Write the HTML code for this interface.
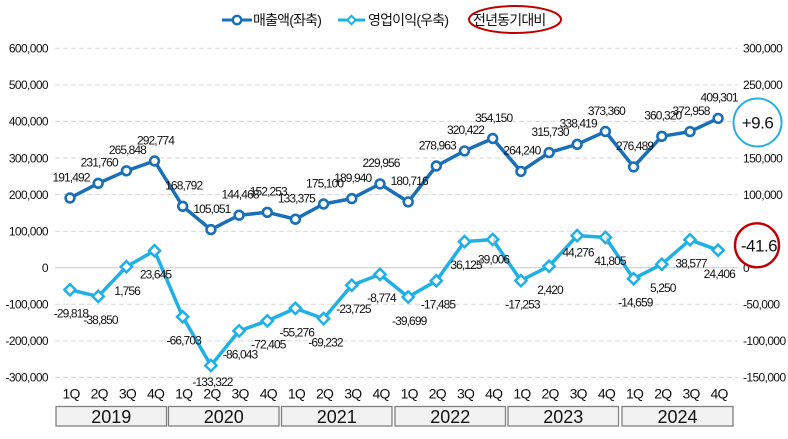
<!DOCTYPE html>
<html><head><meta charset="utf-8"><style>
html,body{margin:0;padding:0;background:#fff;}
svg{display:block;}
text{font-family:"Liberation Sans","Noto Sans CJK KR",sans-serif;fill:#111;}
.ax{font-size:12px;letter-spacing:-0.6px;}
.lb{font-size:12px;letter-spacing:-0.9px;text-anchor:middle;}
.q{font-size:14px;letter-spacing:-0.8px;text-anchor:middle;}
.yr{font-size:18px;text-anchor:middle;}
.lg{font-size:14px;letter-spacing:-0.8px;}
</style></head><body>
<svg width="788" height="439" viewBox="0 0 788 439" xmlns="http://www.w3.org/2000/svg">
<g stroke="#d9d9d9" stroke-width="1" stroke-dasharray="5 3">
<line x1="55" x2="738" y1="48.3" y2="48.3"/>
<line x1="55" x2="738" y1="84.9" y2="84.9"/>
<line x1="55" x2="738" y1="121.4" y2="121.4"/>
<line x1="55" x2="738" y1="158" y2="158"/>
<line x1="55" x2="738" y1="194.6" y2="194.6"/>
<line x1="55" x2="738" y1="231.2" y2="231.2"/>
<line x1="55" x2="738" y1="304.3" y2="304.3"/>
<line x1="55" x2="738" y1="340.9" y2="340.9"/>
<line x1="55" x2="738" y1="377.4" y2="377.4"/>
</g>
<line x1="55" x2="738" y1="267.7" y2="267.7" stroke="#c8c8c8" stroke-width="1"/>
<g class="ax" text-anchor="end">
<text x="48" y="52.6">600,000</text>
<text x="48" y="89.2">500,000</text>
<text x="48" y="125.7">400,000</text>
<text x="48" y="162.3">300,000</text>
<text x="48" y="198.9">200,000</text>
<text x="48" y="235.5">100,000</text>
<text x="48" y="272">0</text>
<text x="48" y="308.6">-100,000</text>
<text x="48" y="345.2">-200,000</text>
<text x="48" y="381.7">-300,000</text>
</g>
<g class="ax">
<text x="743" y="52.6">300,000</text>
<text x="743" y="89.2">250,000</text>
<text x="743" y="125.7">200,000</text>
<text x="743" y="162.3">150,000</text>
<text x="743" y="198.9">100,000</text>
<text x="743" y="272">0</text>
<text x="743" y="308.6">-50,000</text>
<text x="743" y="345.2">-100,000</text>
<text x="743" y="381.7">-150,000</text>
</g>
<polyline fill="none" stroke="#1a6fb9" stroke-width="3.5" stroke-linejoin="round" points="70,198 98.2,183.3 126.4,170.8 154.5,161 182.7,206.3 210.9,229.6 239.1,215.2 267.3,212.3 295.4,219.2 323.6,204 351.8,198.6 380,183.9 408.2,201.9 436.3,166 464.5,150.9 492.7,138.5 520.9,171.4 549.1,152.6 577.2,144.3 605.4,131.5 633.6,166.9 661.8,136.3 690,131.6 718.1,118.4"/>
<g fill="#fff" stroke="#1a6fb9" stroke-width="2.6">
<circle cx="70" cy="198" r="4.4"/><circle cx="98.2" cy="183.3" r="4.4"/><circle cx="126.4" cy="170.8" r="4.4"/><circle cx="154.5" cy="161" r="4.4"/><circle cx="182.7" cy="206.3" r="4.4"/><circle cx="210.9" cy="229.6" r="4.4"/><circle cx="239.1" cy="215.2" r="4.4"/><circle cx="267.3" cy="212.3" r="4.4"/><circle cx="295.4" cy="219.2" r="4.4"/><circle cx="323.6" cy="204" r="4.4"/><circle cx="351.8" cy="198.6" r="4.4"/><circle cx="380" cy="183.9" r="4.4"/><circle cx="408.2" cy="201.9" r="4.4"/><circle cx="436.3" cy="166" r="4.4"/><circle cx="464.5" cy="150.9" r="4.4"/><circle cx="492.7" cy="138.5" r="4.4"/><circle cx="520.9" cy="171.4" r="4.4"/><circle cx="549.1" cy="152.6" r="4.4"/><circle cx="577.2" cy="144.3" r="4.4"/><circle cx="605.4" cy="131.5" r="4.4"/><circle cx="633.6" cy="166.9" r="4.4"/><circle cx="661.8" cy="136.3" r="4.4"/><circle cx="690" cy="131.6" r="4.4"/><circle cx="718.1" cy="118.4" r="4.4"/>
</g>
<polyline fill="none" stroke="#1fb0e6" stroke-width="3.5" stroke-linejoin="round" points="70,289.8 98.2,296.4 126.4,266.7 154.5,250.7 182.7,316.8 210.9,365.5 239.1,330.9 267.3,320.9 295.4,308.4 323.6,318.6 351.8,285.3 380,274.4 408.2,297 436.3,280.8 464.5,241.6 492.7,239.5 520.9,280.6 549.1,266.2 577.2,235.6 605.4,237.4 633.6,278.7 661.8,264.2 690,239.8 718.1,250.2"/>
<g fill="#fff" stroke="#1fb0e6" stroke-width="2.5" stroke-linejoin="miter">
<path d="M70 284.2l5.6 5.6-5.6 5.6-5.6-5.6z"/>
<path d="M98.2 290.8l5.6 5.6-5.6 5.6-5.6-5.6z"/>
<path d="M126.4 261.1l5.6 5.6-5.6 5.6-5.6-5.6z"/>
<path d="M154.5 245.1l5.6 5.6-5.6 5.6-5.6-5.6z"/>
<path d="M182.7 311.2l5.6 5.6-5.6 5.6-5.6-5.6z"/>
<path d="M210.9 359.9l5.6 5.6-5.6 5.6-5.6-5.6z"/>
<path d="M239.1 325.3l5.6 5.6-5.6 5.6-5.6-5.6z"/>
<path d="M267.3 315.3l5.6 5.6-5.6 5.6-5.6-5.6z"/>
<path d="M295.4 302.8l5.6 5.6-5.6 5.6-5.6-5.6z"/>
<path d="M323.6 313l5.6 5.6-5.6 5.6-5.6-5.6z"/>
<path d="M351.8 279.7l5.6 5.6-5.6 5.6-5.6-5.6z"/>
<path d="M380 268.8l5.6 5.6-5.6 5.6-5.6-5.6z"/>
<path d="M408.2 291.4l5.6 5.6-5.6 5.6-5.6-5.6z"/>
<path d="M436.3 275.2l5.6 5.6-5.6 5.6-5.6-5.6z"/>
<path d="M464.5 236l5.6 5.6-5.6 5.6-5.6-5.6z"/>
<path d="M492.7 233.9l5.6 5.6-5.6 5.6-5.6-5.6z"/>
<path d="M520.9 275l5.6 5.6-5.6 5.6-5.6-5.6z"/>
<path d="M549.1 260.6l5.6 5.6-5.6 5.6-5.6-5.6z"/>
<path d="M577.2 230l5.6 5.6-5.6 5.6-5.6-5.6z"/>
<path d="M605.4 231.8l5.6 5.6-5.6 5.6-5.6-5.6z"/>
<path d="M633.6 273.1l5.6 5.6-5.6 5.6-5.6-5.6z"/>
<path d="M661.8 258.6l5.6 5.6-5.6 5.6-5.6-5.6z"/>
<path d="M690 234.2l5.6 5.6-5.6 5.6-5.6-5.6z"/>
<path d="M718.1 244.6l5.6 5.6-5.6 5.6-5.6-5.6z"/>
</g>
<g stroke="#a6a6a6" stroke-width="1">
<line x1="494" y1="238" x2="494" y2="246"/>
<line x1="607" y1="236.5" x2="607" y2="245"/>
</g>
<g class="lb">
<text x="71" y="181.3">191,492</text>
<text x="99.2" y="166.6">231,760</text>
<text x="127.4" y="154.1">265,848</text>
<text x="155.5" y="144.3">292,774</text>
<text x="183.7" y="189.6">168,792</text>
<text x="211.9" y="212.9">105,051</text>
<text x="240.1" y="198.5">144,468</text>
<text x="268.3" y="195.6">152,253</text>
<text x="296.4" y="202.5">133,375</text>
<text x="324.6" y="187.3">175,100</text>
<text x="352.8" y="181.9">189,940</text>
<text x="381" y="167.2">229,956</text>
<text x="409.2" y="185.2">180,716</text>
<text x="437.3" y="149.3">278,963</text>
<text x="465.5" y="134.2">320,422</text>
<text x="493.7" y="121.8">354,150</text>
<text x="521.9" y="154.7">264,240</text>
<text x="550.1" y="135.9">315,730</text>
<text x="578.2" y="127.6">338,419</text>
<text x="606.4" y="114.8">373,360</text>
<text x="634.6" y="150.2">276,489</text>
<text x="662.8" y="119.6">360,320</text>
<text x="691" y="114.9">372,958</text>
<text x="719.1" y="101.7">409,301</text>
</g>
<g class="lb">
<text x="71" y="317.6">-29,818</text>
<text x="100.5" y="323.8">-38,850</text>
<text x="127.2" y="294.8">1,756</text>
<text x="155.5" y="278.5">23,645</text>
<text x="183.7" y="344.6">-66,703</text>
<text x="212.5" y="386">-133,322</text>
<text x="240.1" y="358.7">-86,043</text>
<text x="268.3" y="348.7">-72,405</text>
<text x="296.8" y="336.4">-55,276</text>
<text x="325.5" y="346.4">-69,232</text>
<text x="353.5" y="313.1">-23,725</text>
<text x="381.5" y="302.2">-8,774</text>
<text x="409.2" y="324.8">-39,699</text>
<text x="438" y="308.6">-17,485</text>
<text x="466" y="269.2">36,125</text>
<text x="493.5" y="263.3">39,006</text>
<text x="522.5" y="308.4">-17,253</text>
<text x="550" y="294">2,420</text>
<text x="578" y="256.6">44,276</text>
<text x="610" y="265">41,805</text>
<text x="635.3" y="306.5">-14,659</text>
<text x="662.8" y="292">5,250</text>
<text x="691" y="267.6">38,577</text>
<text x="719.3" y="278">24,406</text>
</g>
<circle cx="757.5" cy="122.5" r="24" fill="#fff" stroke="#29aee3" stroke-width="2"/>
<text x="757.5" y="128.5" font-size="17" text-anchor="middle" letter-spacing="-0.5">+9.6</text>
<circle cx="757" cy="245.3" r="22" fill="#fff" stroke="#c00000" stroke-width="2.4"/>
<text x="759" y="251.3" font-size="17" text-anchor="middle" letter-spacing="-0.5">-41.6</text>
<g class="q">
<text x="71" y="398.5">1Q</text><text x="99.2" y="398.5">2Q</text><text x="127.4" y="398.5">3Q</text><text x="155.5" y="398.5">4Q</text>
<text x="183.7" y="398.5">1Q</text><text x="211.9" y="398.5">2Q</text><text x="240.1" y="398.5">3Q</text><text x="268.3" y="398.5">4Q</text>
<text x="296.4" y="398.5">1Q</text><text x="324.6" y="398.5">2Q</text><text x="352.8" y="398.5">3Q</text><text x="381" y="398.5">4Q</text>
<text x="409.2" y="398.5">1Q</text><text x="437.3" y="398.5">2Q</text><text x="465.5" y="398.5">3Q</text><text x="493.7" y="398.5">4Q</text>
<text x="521.9" y="398.5">1Q</text><text x="550.1" y="398.5">2Q</text><text x="578.2" y="398.5">3Q</text><text x="606.4" y="398.5">4Q</text>
<text x="634.6" y="398.5">1Q</text><text x="662.8" y="398.5">2Q</text><text x="691" y="398.5">3Q</text><text x="719.1" y="398.5">4Q</text>
</g>
<g fill="#f2f2f2" stroke="#808080" stroke-width="1.3">
<rect x="56" y="406.5" width="110.5" height="19.5"/>
<rect x="168.5" y="406.5" width="110.5" height="19.5"/>
<rect x="281.5" y="406.5" width="110.5" height="19.5"/>
<rect x="395" y="406.5" width="110.5" height="19.5"/>
<rect x="508" y="406.5" width="110.5" height="19.5"/>
<rect x="622" y="406.5" width="111" height="19.5"/>
</g>
<g class="yr">
<text x="111.3" y="423">2019</text>
<text x="223.8" y="423">2020</text>
<text x="336.8" y="423">2021</text>
<text x="450.3" y="423">2022</text>
<text x="563.3" y="423">2023</text>
<text x="677.5" y="423">2024</text>
</g>
<line x1="222" y1="20" x2="252" y2="20" stroke="#1a6fb9" stroke-width="3"/>
<circle cx="237" cy="20" r="4.2" fill="#fff" stroke="#1a6fb9" stroke-width="2.4"/>
<text class="lg" x="253" y="25">매출액(좌축)</text>
<line x1="338" y1="20" x2="365" y2="20" stroke="#1fb0e6" stroke-width="3"/>
<path d="M351.5 15.8l4.2 4.2-4.2 4.2-4.2-4.2z" fill="#fff" stroke="#1fb0e6" stroke-width="2"/>
<text class="lg" x="368" y="25">영업이익(우축)</text>
<ellipse cx="515" cy="19.5" rx="46" ry="13.5" fill="none" stroke="#c00000" stroke-width="2"/>
<text class="lg" x="473" y="25" letter-spacing="-0.5">전년동기대비</text>
</svg>
</body></html>
